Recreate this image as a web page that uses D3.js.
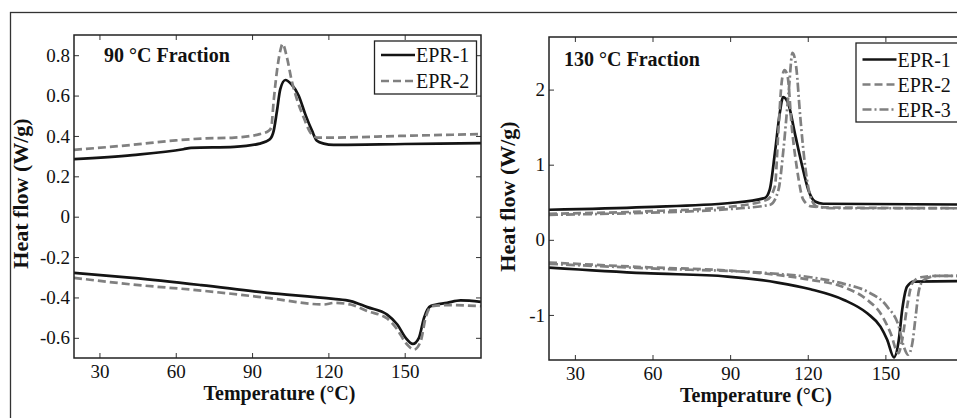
<!DOCTYPE html>
<html><head><meta charset="utf-8">
<script src="https://cdn.jsdelivr.net/npm/d3@7"></script>
<style>
body{margin:0;background:#fff;}
svg{display:block;}
svg text{font-family:"Liberation Serif","Times New Roman",serif;fill:#111;}
</style></head>
<body><svg id="c" width="957" height="418"></svg>
<script>
// ---- data ----
const xTicks = [30, 60, 90, 120, 150];
const leftYTicks = [-0.6, -0.4, -0.2, 0, 0.2, 0.4, 0.6, 0.8];
const leftYTickLabels = ["-0.6", "-0.4", "-0.2", "0", "0.2", "0.4", "0.6", "0.8"];
const rightYTicks = [-1, 0, 1, 2];
const rightYTickLabels = ["-1", "0", "1", "2"];
const leftTitle = "90 °C Fraction";
const rightTitle = "130 °C Fraction";
const leftSeriesNames = ["EPR-1", "EPR-2"];
const rightSeriesNames = ["EPR-1", "EPR-2", "EPR-3"];

// 90 °C fraction, cooling (upper) and heating (lower) curves: [T, W/g]
const l90_epr1_up = [[20,0.285],[43,0.305],[63,0.334],[66,0.341],[83,0.346],[93,0.362],[97,0.384],[98.5,0.425],[99.8,0.525],[101.1,0.632],[103.1,0.677],[105.5,0.655],[108.3,0.6],[110.9,0.508],[113.6,0.425],[115.5,0.376],[118.2,0.362],[122,0.356],[150,0.36],[180,0.364]];
const l90_epr2_up = [[20,0.331],[43,0.356],[60,0.378],[70,0.387],[83,0.392],[93,0.409],[96.5,0.425],[97.5,0.44],[98.5,0.574],[99.8,0.723],[101.1,0.822],[102,0.856],[103.7,0.789],[105.6,0.673],[107.6,0.583],[110.3,0.491],[112.9,0.417],[115.5,0.392],[122,0.392],[148,0.4],[180,0.409]];
const l90_epr1_dn = [[20,-0.278],[43,-0.303],[70,-0.339],[96,-0.377],[122,-0.407],[128.7,-0.418],[135.3,-0.448],[143.1,-0.485],[147.1,-0.534],[150.4,-0.6],[153.2,-0.63],[155.6,-0.6],[157.6,-0.501],[160.2,-0.443],[166.7,-0.427],[172,-0.415],[180,-0.422]];
const l90_epr2_dn = [[20,-0.303],[43,-0.336],[70,-0.366],[96,-0.402],[118.2,-0.435],[122.2,-0.427],[128.7,-0.435],[135.3,-0.468],[143.1,-0.504],[147.1,-0.559],[150.4,-0.625],[153.7,-0.658],[156.3,-0.617],[158.2,-0.501],[160.8,-0.443],[166.7,-0.438],[180,-0.443]];

// 130 °C fraction
const r130_epr1_up = [[20,0.4],[57,0.436],[90,0.49],[103.4,0.556],[105.3,0.667],[107.3,1.156],[109.2,1.69],[110.5,1.9],[112.4,1.82],[115,1.42],[117.6,1.02],[120.2,0.667],[122.8,0.51],[126,0.48],[180,0.47]];
const r130_epr2_up = [[20,0.347],[57,0.378],[90,0.44],[104.2,0.533],[107.3,0.71],[108.6,1.42],[109.9,2.09],[111,2.26],[112.2,2.18],[113.8,1.51],[115.7,0.98],[118.3,0.533],[121.5,0.444],[130,0.43],[180,0.42]];
const r130_epr3_up = [[20,0.333],[57,0.36],[90,0.41],[105.5,0.467],[108.7,0.667],[110.6,1.2],[112.6,1.96],[114.1,2.49],[115.5,2.31],[117.1,1.64],[119,0.98],[121,0.58],[123.6,0.444],[130,0.42],[180,0.42]];
const r130_epr1_dn = [[20,-0.369],[57,-0.444],[89,-0.489],[108.3,-0.569],[121.1,-0.658],[134,-0.8],[143,-0.978],[148.1,-1.156],[150.7,-1.33],[153.3,-1.564],[155.2,-1.33],[156.5,-0.933],[158.4,-0.622],[161,-0.556],[180,-0.55]];
const r130_epr2_dn = [[20,-0.302],[57,-0.364],[89,-0.409],[108.3,-0.467],[121.1,-0.533],[134,-0.631],[143,-0.8],[148.1,-0.978],[152,-1.24],[155,-1.51],[156.5,-1.33],[158.4,-0.89],[160.4,-0.578],[163.7,-0.498],[170,-0.48],[180,-0.48]];
const r130_epr3_dn = [[20,-0.32],[57,-0.378],[108.3,-0.453],[121.1,-0.498],[134,-0.587],[143,-0.689],[150.7,-0.889],[155.2,-1.156],[157.1,-1.42],[158.8,-1.53],[160.4,-1.38],[161.7,-1.02],[163,-0.667],[164.9,-0.533],[170,-0.48],[180,-0.48]];

// ---- styles ----
const styles = {
  "EPR-1": {stroke:"#141414", dash:null, width:2.7},
  "EPR-2": {stroke:"#808080", dash:"8,4", width:2.7},
  "EPR-3": {stroke:"#808080", dash:"9,3,2,3", width:2.7}
};
const SERIF = "Liberation Serif, Times New Roman, serif";

const svg = d3.select("#c");
// outer frame
svg.append("rect").attr("x",10.5).attr("y",12.5).attr("width",970).attr("height",430)
  .attr("fill","none").attr("stroke","#333").attr("stroke-width",1.3);

function panel(cfg){
  const g = svg.append("g").attr("transform",`translate(${cfg.left},${cfg.top})`);
  const w = cfg.width, h = cfg.height;
  const x = d3.scaleLinear().domain([20,180]).range([0,w]);
  const y = d3.scaleLinear().domain(cfg.ydomain).range([h,0]);
  const clipId = "clip"+cfg.id;
  g.append("clipPath").attr("id",clipId).append("rect").attr("width",w).attr("height",h);

  const line = d3.line().x(d=>x(d[0])).y(d=>y(d[1])).curve(d3.curveMonotoneX);
  const lines = g.append("g").attr("clip-path",`url(#${clipId})`);
  cfg.series.forEach(s=>{
    const st = styles[s.name];
    s.curves.forEach(c=>{
      lines.append("path").attr("d",line(c)).attr("fill","none")
        .attr("stroke",st.stroke).attr("stroke-width",st.width)
        .attr("stroke-dasharray",st.dash).attr("stroke-linejoin","round");
    });
  });

  // axes (inward ticks on all sides)
  const fmtY = d => cfg.yLabels[cfg.yTicks.indexOf(d)];
  const axB = g.append("g").attr("transform",`translate(0,${h})`)
    .call(d3.axisBottom(x).tickValues(xTicks).tickSize(-5).tickPadding(7).tickFormat(d3.format("d")));
  const axT = g.append("g").call(d3.axisTop(x).tickValues(xTicks).tickSize(-5).tickFormat(""));
  const axL = g.append("g").call(d3.axisLeft(y).tickValues(cfg.yTicks).tickSize(-5).tickPadding(4).tickFormat(fmtY));
  const axR = g.append("g").attr("transform",`translate(${w},0)`)
    .call(d3.axisRight(y).tickValues(cfg.yTicks).tickSize(-5).tickFormat(""));
  [axB,axT,axL,axR].forEach(a=>{
    a.attr("font-family",SERIF).attr("font-size",19);
    a.select(".domain").remove();
    a.selectAll(".tick line").attr("stroke","#333").attr("stroke-width",1);
    a.selectAll(".tick text").attr("font-family",SERIF).attr("font-size",19).attr("fill","#222");
  });
  g.append("rect").attr("width",w).attr("height",h).attr("fill","none").attr("stroke","#222").attr("stroke-width",1.5);

  // title
  g.append("text").attr("x",cfg.titleX).attr("y",cfg.titleY).text(cfg.title)
    .style("font-weight","bold").style("font-size","20px");
  // axis labels
  g.append("text").attr("x",w/2+cfg.xlabDx).attr("y",h+42).attr("text-anchor","middle")
    .text("Temperature (°C)").style("font-weight","bold").style("font-size","20px");
  g.append("text").attr("transform",`translate(${cfg.ylabX},${h/2+cfg.ylabDy}) rotate(-90)`).attr("text-anchor","middle")
    .text("Heat flow (W/g)").style("font-weight","bold").style("font-size","22px");

  // legend
  const lg = g.append("g").attr("transform",`translate(${cfg.leg.x},${cfg.leg.y})`);
  lg.append("rect").attr("x",0.5).attr("y",0.5).attr("width",cfg.leg.w).attr("height",cfg.leg.h)
    .attr("fill","#fff").attr("stroke","#222").attr("stroke-width",1.3);
  cfg.legendNames.forEach((n,i)=>{
    const st = styles[n];
    const yy = cfg.leg.row0 + i*cfg.leg.dy;
    lg.append("line").attr("x1",7).attr("x2",41).attr("y1",yy).attr("y2",yy)
      .attr("stroke",st.stroke).attr("stroke-width",st.width).attr("stroke-dasharray",st.dash);
    lg.append("text").attr("x",42).attr("y",yy).attr("dy","0.35em").text(n).style("font-size","20px");
  });
}

panel({id:"L", left:74, top:35, width:407, height:323, ydomain:[-0.7,0.9],
  yTicks:leftYTicks, yLabels:leftYTickLabels, title:leftTitle, titleX:30, titleY:26.5,
  xlabDx:2, ylabX:-46, ylabDy:-3,
  series:[{name:"EPR-1",curves:[l90_epr1_up,l90_epr1_dn]},{name:"EPR-2",curves:[l90_epr2_up,l90_epr2_dn]}],
  legendNames:leftSeriesNames,
  leg:{x:300,y:5.5,w:102,h:53,row0:14.5,dy:26}});

panel({id:"R", left:549, top:37, width:414, height:323, ydomain:[-1.6,2.7],
  yTicks:rightYTicks, yLabels:rightYTickLabels, title:rightTitle, titleX:15, titleY:29,
  xlabDx:0, ylabX:-34, ylabDy:-2,
  series:[{name:"EPR-1",curves:[r130_epr1_up,r130_epr1_dn]},{name:"EPR-2",curves:[r130_epr2_up,r130_epr2_dn]},{name:"EPR-3",curves:[r130_epr3_up,r130_epr3_dn]}],
  legendNames:rightSeriesNames,
  leg:{x:306.5,y:5.5,w:110,h:79,row0:17,dy:25}});
</script></body></html>
